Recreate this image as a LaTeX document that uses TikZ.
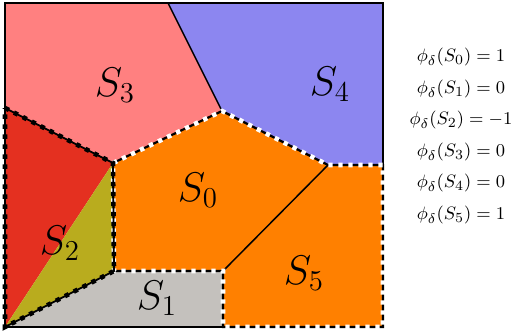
\documentclass[tikz,border=0pt]{standalone}
\usepackage{amsmath}
\begin{document}
\begin{tikzpicture}[x=0.5pt,y=-0.5pt,
  thinline/.style={draw=black,line width=0.75pt,line join=miter},
  wdash/.style={draw=white,line width=2.3pt,dash pattern=on 2.2pt off 2.8pt,
     preaction={draw=black,line width=1.1pt}},
  bdash/.style={draw=black,line width=2.3pt,dash pattern=on 2.2pt off 2.8pt,
     preaction={draw=black,line width=0.9pt}},
  biglab/.style={font=\fontsize{21.5}{25}\selectfont,inner sep=0pt},
  vallab/.style={font=\fontsize{9.4}{12}\selectfont,inner sep=0pt}]
\definecolor{cS3}{RGB}{255,128,128}
\definecolor{cS4}{RGB}{140,134,240}
\definecolor{cOr}{RGB}{255,128,0}
\definecolor{cRed}{RGB}{228,48,32}
\definecolor{cOl}{RGB}{185,172,30}
\definecolor{cGr}{RGB}{196,193,189}
\useasboundingbox (0,0) rectangle (513,333);
% vertices
\coordinate (TL) at (5,3);
\coordinate (TR) at (383,3);
\coordinate (BR) at (383,327);
\coordinate (J) at (5,327);
\coordinate (A) at (168,3);
\coordinate (B) at (222,111);
\coordinate (C) at (328,165);
\coordinate (D) at (383,165);
\coordinate (E) at (223,271);
\coordinate (F) at (223,327);
\coordinate (G) at (114,271);
\coordinate (H) at (113,163);
\coordinate (I) at (5,108);
% fills
\fill[cS3] (TL) -- (A) -- (B) -- (H) -- (I) -- cycle;
\fill[cS4] (A) -- (TR) -- (D) -- (C) -- (B) -- cycle;
\fill[cOr] (H) -- (B) -- (C) -- (E) -- (G) -- cycle;
\fill[cOr] (C) -- (D) -- (BR) -- (F) -- (E) -- cycle;
\fill[cGr] (G) -- (E) -- (F) -- (J) -- cycle;
\fill[cRed] (I) -- (H) -- (J) -- cycle;
\fill[cOl] (H) -- (G) -- (J) -- cycle;
% solid boundaries
\draw[thinline] (I) -- (TL) -- (TR) -- (D);
\draw[thinline] (J) -- (F);
\draw[thinline] (A) -- (B);
\draw[thinline] (C) -- (E);
% positive regions outline
\draw[wdash] (H) -- (B) -- (C) -- (D) -- (BR) -- (F) -- (E) -- (G) -- cycle;
% negative region outline
\draw[bdash] (I) -- (H) -- (G) -- (J) -- cycle;
% labels
\node[biglab] (l3) at (115,85) {$S_3$};
\node[biglab] (l4) at (330,84) {$S_4$};
\node[biglab] (l0) at (198,190) {$S_0$};
\node[biglab] (l2) at (60,243) {$S_2$};
\node[biglab] (l1) at (157,298) {$S_1$};
\node[biglab] (l5) at (304,273) {$S_5$};
% values
\node[vallab] (v0) at (461,57) {$\phi_\delta(S_0) = 1$};
\node[vallab] (v1) at (461,89) {$\phi_\delta(S_1) = 0$};
\node[vallab] (v2) at (461,120) {$\phi_\delta(S_2) = -1$};
\node[vallab] (v3) at (461,152) {$\phi_\delta(S_3) = 0$};
\node[vallab] (v4) at (461,183) {$\phi_\delta(S_4) = 0$};
\node[vallab] (v5) at (461,215) {$\phi_\delta(S_5) = 1$};
\end{tikzpicture}
\end{document}
